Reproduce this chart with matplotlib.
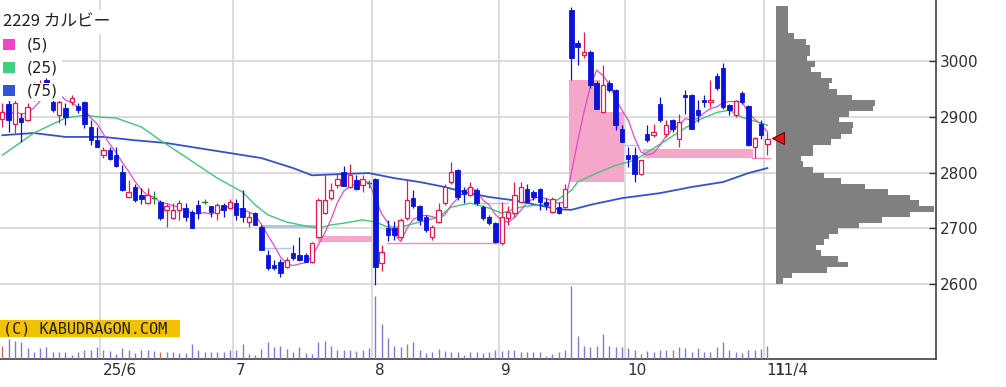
import numpy as np
import pandas as pd
import matplotlib
matplotlib.use("Agg")
import matplotlib.pyplot as plt
from matplotlib.patches import Rectangle
from matplotlib.transforms import Affine2D, blended_transform_factory

# daily candles, 2025-05-09 .. 2025-11-04 (index = trading day)
opens = [2897, 2924, 2888, 2898, 2895, 2932, 2945, 2966, 2927, 2903,
         2916, 2926, 2920, 2927, 2882, 2858, 2831, 2840, 2831, 2801,
         2756, 2774, 2759, 2745, 2754, 2747, 2733, 2718, 2733, 2736,
         2730, 2742, 2747, 2739, 2727, 2742, 2736, 2745, 2736, 2712,
         2727, 2703, 2652, 2634, 2640, 2631, 2655, 2652, 2652, 2640,
         2685, 2727, 2754, 2777, 2801, 2774, 2786, 2777, 2781, 2789,
         2637, 2700, 2700, 2685, 2718, 2754, 2739, 2721, 2685, 2712,
         2745, 2783, 2804, 2768, 2759, 2768, 2738, 2721, 2709, 2673,
         2718, 2727, 2747, 2771, 2765, 2770, 2747, 2730, 2738, 2738,
         3092, 3033, 3011, 3017, 2960, 2909, 2961, 2948, 2879, 2831,
         2831, 2798, 2870, 2867, 2924, 2870, 2895, 2861, 2940, 2939,
         2912, 2930, 2927, 2973, 2987, 2922, 2903, 2943, 2919, 2846,
         2887, 2852]
highs = [2925, 2930, 2930, 2907, 2925, 2962, 2966, 2970, 2932, 2930,
         2925, 2939, 2925, 2929, 2894, 2882, 2846, 2846, 2846, 2813,
         2786, 2779, 2772, 2772, 2766, 2750, 2745, 2745, 2750, 2745,
         2733, 2750, 2752, 2740, 2745, 2745, 2752, 2752, 2768, 2729,
         2730, 2706, 2661, 2643, 2645, 2649, 2670, 2685, 2655, 2676,
         2755, 2795, 2781, 2797, 2812, 2815, 2795, 2795, 2787, 2790,
         2670, 2715, 2713, 2718, 2786, 2768, 2742, 2724, 2706, 2745,
         2780, 2819, 2806, 2774, 2783, 2772, 2742, 2724, 2712, 2747,
         2739, 2783, 2783, 2780, 2768, 2772, 2754, 2756, 2747, 2780,
         3097, 3038, 3053, 3020, 2964, 2993, 2966, 2950, 2885, 2846,
         2846, 2823, 2885, 2887, 2936, 2894, 2897, 2906, 2949, 2941,
         2930, 2939, 2966, 2978, 2996, 2924, 2930, 2947, 2921, 2864,
         2894, 2873]
lows = [2882, 2873, 2871, 2855, 2893, 2928, 2935, 2940, 2909, 2889,
        2885, 2921, 2907, 2880, 2849, 2845, 2826, 2822, 2810, 2767,
        2755, 2747, 2743, 2744, 2743, 2715, 2703, 2716, 2715, 2713,
        2700, 2716, 2744, 2721, 2715, 2721, 2735, 2715, 2712, 2703,
        2705, 2661, 2625, 2625, 2613, 2628, 2643, 2641, 2639, 2638,
        2683, 2725, 2750, 2773, 2775, 2772, 2768, 2765, 2773, 2598,
        2623, 2677, 2679, 2679, 2715, 2737, 2706, 2694, 2679, 2709,
        2742, 2780, 2750, 2745, 2757, 2742, 2715, 2706, 2673, 2670,
        2706, 2721, 2745, 2745, 2750, 2733, 2733, 2727, 2726, 2736,
        2966, 2993, 3005, 2951, 2914, 2908, 2945, 2876, 2855, 2810,
        2783, 2795, 2855, 2864, 2891, 2864, 2873, 2846, 2906, 2878,
        2891, 2918, 2918, 2948, 2915, 2903, 2900, 2924, 2847, 2827,
        2861, 2831]
closes = [2909, 2895, 2925, 2891, 2918, 2952, 2958, 2955, 2912, 2927,
          2900, 2934, 2912, 2888, 2858, 2846, 2840, 2825, 2811, 2768,
          2765, 2750, 2752, 2759, 2754, 2718, 2739, 2733, 2746, 2721,
          2700, 2727, 2747, 2730, 2742, 2733, 2747, 2724, 2721, 2721,
          2706, 2661, 2628, 2628, 2619, 2643, 2646, 2643, 2640, 2673,
          2750, 2750, 2768, 2789, 2776, 2795, 2771, 2789, 2781, 2631,
          2658, 2688, 2688, 2715, 2750, 2739, 2715, 2697, 2703, 2733,
          2774, 2801, 2756, 2762, 2774, 2745, 2718, 2709, 2676, 2721,
          2730, 2759, 2774, 2747, 2756, 2747, 2742, 2752, 2727, 2770,
          3005, 3026, 3017, 2957, 2915, 2957, 2948, 2885, 2855, 2825,
          2798, 2822, 2858, 2872, 2894, 2885, 2879, 2891, 2936, 2879,
          2903, 2927, 2930, 2951, 2918, 2912, 2928, 2927, 2849, 2862,
          2867, 2861]
volumes = [133, 200, 183, 167, 107, 73, 107, 117, 73, 67,
           67, 40, 73, 90, 90, 117, 90, 83, 50, 107,
           90, 60, 90, 90, 83, 73, 73, 67, 60, 60,
           150, 90, 67, 67, 73, 73, 90, 90, 150, 50,
           40, 100, 167, 117, 133, 100, 73, 117, 60, 50,
           167, 183, 133, 90, 90, 90, 83, 90, 107, 627,
           350, 207, 133, 117, 150, 167, 90, 60, 73, 100,
           83, 73, 67, 40, 73, 67, 60, 73, 90, 83,
           90, 90, 73, 73, 73, 73, 33, 50, 73, 90,
           733, 227, 133, 117, 133, 250, 133, 117, 117, 107,
           90, 50, 83, 73, 90, 90, 90, 117, 107, 73,
           107, 73, 73, 117, 167, 90, 73, 60, 90, 90,
           100, 133]
red_volume_days = [0, 25, 45, 64, 88, 106]

# moving averages
ma25_idx = [0, 5, 10, 13, 16, 18, 22, 25, 29, 34, 38, 40, 42, 45, 48, 50, 52, 54, 57, 59,
            61, 63, 66, 69, 71, 74, 77, 79, 82, 87, 90, 91, 94, 97, 100, 105, 107, 110,
            113, 115, 117, 120, 121]
ma25_val = [2831, 2871, 2898, 2903, 2899, 2898, 2882, 2858, 2828, 2790, 2765, 2742, 2724,
            2711, 2704, 2700, 2706, 2709, 2715, 2711, 2702, 2702, 2711, 2720, 2738, 2745,
            2736, 2727, 2738, 2745, 2768, 2783, 2799, 2813, 2822, 2858, 2873, 2894, 2908,
            2912, 2899, 2889, 2885]
ma75_idx = [0, 5, 10, 16, 21, 26, 31, 36, 41, 46, 49, 53, 58, 62, 66, 70, 73, 77, 81, 84,
            88, 90, 93, 98, 104, 109, 114, 118, 121]
ma75_val = [2867, 2871, 2864, 2864, 2858, 2853, 2844, 2835, 2826, 2808, 2795, 2797, 2799,
            2790, 2783, 2774, 2765, 2756, 2750, 2743, 2734, 2733, 2742, 2754, 2763, 2774,
            2783, 2799, 2808]

# price-by-volume profile (10 yen bins)
profile_price = list(range(3095, 2600, -10))
profile_vol = [12, 12, 12, 12, 12, 18, 29, 33, 33, 30,
               38, 34, 44, 55, 52, 60, 74, 97, 95, 71,
               62, 75, 74, 64, 54, 36, 36, 24, 26, 36,
               47, 64, 87, 110, 131, 140, 155, 131, 104, 81,
               61, 52, 47, 39, 44, 61, 70, 50, 16, 7]

# unfilled gaps: (start day, end day, low, high, colour)
gap_boxes = [(41.0, 50.0, 2700, 2706, 'b'), (50.0, 58.5, 2675, 2686, 'p'),
             (89.6, 94.5, 2783, 2966, 'p'), (94.5, 98.3, 2783, 2909, 'p'),
             (101.3, 118.7, 2826, 2843, 'p')]
gap_lines = [(41.5, 45.5, 2664, 'b'), (60.9, 78.2, 2674, 'p'), (75.5, 80.0, 2745, 'b'),
             (98.3, 100.5, 2849, 'b'), (118.6, 121.4, 2826, 'p')]

month_pos = [15.5, 36.5, 58.5, 78.5, 98.5, 120.5]
month_labels = ['25/6', '7', '8', '9', '10', '11']
price_ticks = [2600, 2700, 2800, 2900, 3000]
last_price = 2862

RED, BLUE, GREEN = '#e8194b', '#0a14d8', '#1f8a2a'
PINK_BOX, BLUE_BOX = '#f5a6c9', '#a9c6ef'

W, H = 1006, 387
fig = plt.figure(figsize=(W / 100, H / 100), dpi=100)
ax = fig.add_axes([0, 28 / H, 936 / W, 359 / H])
x_max = 147.66
ax.set_xlim(-0.35, x_max)
ax.set_ylim(2465, 3110)

for p in price_ticks:
    ax.axhline(p, color='#d6d6d6', lw=1.2, zorder=0)
for m in month_pos:
    ax.axvline(m, color='#d6d6d6', lw=1.2, zorder=0)

# volume in the bottom strip
ax2 = ax.twinx()
ax2.set_ylim(0, 3590)
ax2.axis('off')
idx = np.arange(len(closes))
vcol = ['#d86a62' if i in red_volume_days else '#7b7bd8' for i in idx]
ax2.vlines(idx, 0, volumes, colors=vcol, lw=1.0)

# gaps
cmap = {'p': PINK_BOX, 'b': BLUE_BOX}
for x0, x1, lo, hi, k in gap_boxes:
    ax.add_patch(Rectangle((x0, lo), x1 - x0, hi - lo, fc=cmap[k], ec='none', zorder=1))
for x0, x1, p, k in gap_lines:
    ax.plot([x0, x1], [p, p], color=cmap[k] if k == 'b' else '#f08ab8', lw=1.0, zorder=1)

# volume profile on the right
prof_left = 122.36
scale = 0.99 * (x_max - prof_left) / max(profile_vol)
ax.barh(profile_price, np.array(profile_vol) * scale, left=prof_left, height=10,
        color='#808080', zorder=2)

# moving averages
ma5 = pd.Series(closes).rolling(5, min_periods=1).mean()
ax.plot(ma75_idx, ma75_val, color='#3352d0', lw=1.3, zorder=3)
ax.plot(ma25_idx, ma25_val, color='#3ec878', lw=1.0, zorder=3)
ax.plot(idx, ma5, color='#e24ccb', lw=0.9, zorder=3)

# candles
o = np.array(opens); c = np.array(closes)
col = np.where(c > o, RED, np.where(c < o, BLUE, GREEN))
ax.vlines(idx, lows, highs, colors=col, lw=0.9, zorder=4)
bw = 0.7
for i in idx:
    lo, hi = min(o[i], c[i]), max(o[i], c[i])
    if c[i] > o[i]:
        ax.add_patch(Rectangle((i - bw / 2, lo), bw, hi - lo, fc='white', ec=RED, lw=0.9, zorder=5))
    elif c[i] < o[i]:
        ax.add_patch(Rectangle((i - bw / 2, lo), bw, hi - lo, fc=BLUE, ec=BLUE, lw=0.6, zorder=5))
    else:
        ax.plot([i - bw / 2, i + bw / 2], [o[i], o[i]], color=GREEN, lw=1.0, zorder=5)

ax.plot(122.7, last_price, marker='<', ms=8, color='#e01818', mec='#700000', mew=0.8,
        clip_on=False, zorder=6)

# axes styling
for s in ['top', 'left']:
    ax.spines[s].set_visible(False)
for s in ['right', 'bottom']:
    ax.spines[s].set_color('#404040')
    ax.spines[s].set_linewidth(1.2)
ax.yaxis.tick_right()
ax.set_yticks(price_ticks)
ax.tick_params(axis='y', direction='in', length=5, width=1, pad=3, labelsize=11,
               colors='#303030')
ax.set_xticks([])

tb = blended_transform_factory(ax.transData, ax.transAxes)
for m, lab in zip(month_pos, month_labels):
    ax.text(m + 0.4, -0.012, lab, transform=tb, ha='left', va='top', fontsize=11,
            color='#303030')
ax.text(month_pos[-1] + 1.65, -0.012, '11/4', transform=tb, ha='left', va='top',
        fontsize=11, color='#303030')

# legend block, top-left (pixel coords)
px = Affine2D().scale(1 / W, -1 / H).translate(0, 1) + fig.transFigure
for x0, y0, w, h in [(0, 10, 120, 24), (0, 35, 62, 21), (0, 58, 62, 20), (0, 83, 62, 18)]:
    fig.add_artist(Rectangle((x0, y0), w, h, transform=px, fc='white', ec='none', zorder=2))
fig.text(3, 22, '2229 カルビー', transform=px, va='center', ha='left', fontsize=12,
         family=['Noto Sans CJK JP', 'DejaVu Sans'], color='#202020', zorder=3)
for yc, lab, cc in [(45, '(5)', '#f244c8'), (68, '(25)', '#3fd17e'), (91, '(75)', '#2f55e0')]:
    fig.add_artist(Rectangle((3, yc - 6), 12, 11, transform=px, fc=cc, ec='none', zorder=3))
    fig.text(27, yc, lab, transform=px, va='center', ha='left', fontsize=11,
             color='#202020', zorder=3)

# copyright tag
fig.add_artist(Rectangle((0, 320), 180, 17, transform=px, fc='#f2c200', ec='none', zorder=2))
fig.text(3, 328.5, '(C) KABUDRAGON.COM', transform=px, va='center', ha='left', fontsize=11,
         family='DejaVu Sans Mono', color='#202020', zorder=3)

fig.savefig('out.png', dpi=100)
